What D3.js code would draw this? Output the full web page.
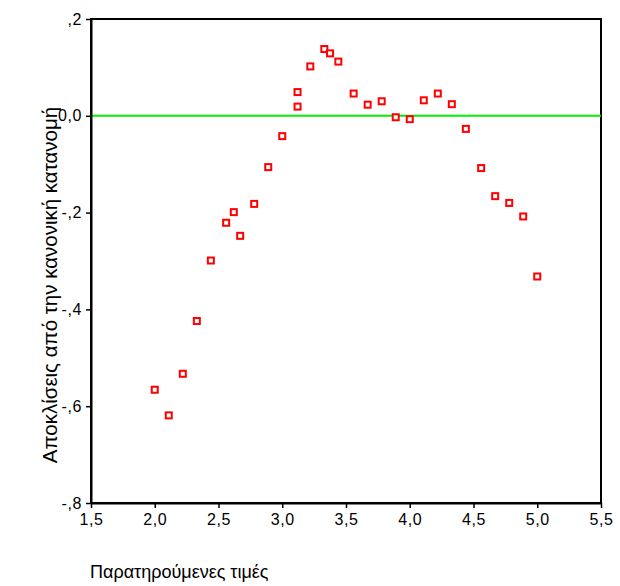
<!DOCTYPE html>
<html>
<head>
<meta charset="utf-8">
<script src="https://cdn.jsdelivr.net/npm/d3@7"></script>
<style>
  body { margin: 0; background: #fff; }
  text { font-family: "Liberation Sans", Arial, sans-serif; fill: #000; }
</style>
</head>
<body>
<div id="chart"></div>
<script>
// Data
var observed = [2.0, 2.11, 2.22, 2.33, 2.44, 2.56, 2.62, 2.67, 2.78, 2.89,
                3.0, 3.12, 3.12, 3.22, 3.33, 3.375, 3.44, 3.56, 3.67, 3.78,
                3.89, 4.0, 4.11, 4.22, 4.33, 4.44, 4.56, 4.67, 4.78, 4.89, 5.0];
var deviation = [-0.566, -0.619, -0.533, -0.424, -0.299, -0.221, -0.199, -0.248, -0.182, -0.106,
                 -0.042, 0.049, 0.019, 0.102, 0.138, 0.129, 0.112, 0.046, 0.023, 0.030,
                 -0.003, -0.007, 0.032, 0.046, 0.024, -0.027, -0.108, -0.166, -0.180, -0.208, -0.332];
var xTicks = [1.5, 2.0, 2.5, 3.0, 3.5, 4.0, 4.5, 5.0, 5.5];
var xTickLabels = ["1,5", "2,0", "2,5", "3,0", "3,5", "4,0", "4,5", "5,0", "5,5"];
var yTicks = [0.2, 0.0, -0.2, -0.4, -0.6, -0.8];
var yTickLabels = [",2", "0,0", "-,2", "-,4", "-,6", "-,8"];

var margin = { top: 19, right: 19, bottom: 83, left: 91 },
    width = 620 - margin.left - margin.right,
    height = 586 - margin.top - margin.bottom;

var x = d3.scaleLinear().domain([1.5, 5.5]).range([0, width]);
var y = d3.scaleLinear().domain([-0.8, 0.2]).range([height, 0]);

var svg = d3.select("#chart").append("svg")
    .attr("width", 620)
    .attr("height", 586);

var g = svg.append("g")
    .attr("transform", "translate(" + margin.left + "," + margin.top + ")");

// frame (top + right)
g.append("rect")
    .attr("x", 0).attr("y", 0)
    .attr("width", width).attr("height", height)
    .attr("fill", "none")
    .attr("stroke", "#000")
    .attr("stroke-width", 2);

// reference line at 0
g.append("line")
    .attr("x1", 0).attr("x2", width)
    .attr("y1", y(0)).attr("y2", y(0))
    .attr("stroke", "#00f000")
    .attr("stroke-width", 2);

// X axis
var xAxis = g.append("g")
    .attr("transform", "translate(0," + height + ")")
    .call(d3.axisBottom(x)
        .tickValues(xTicks)
        .tickSize(5)
        .tickSizeOuter(0)
        .tickFormat(function (d, i) { return xTickLabels[i]; }));
xAxis.select(".domain").attr("stroke-width", 2);
xAxis.selectAll(".tick line").attr("stroke-width", 1.5);
xAxis.selectAll(".tick text")
    .attr("dy", "0.9em")
    .style("font-size", "16px")
    .style("letter-spacing", "0.6px")
    .style("font-family", "Liberation Sans, Arial, sans-serif");

// Y axis
var yAxis = g.append("g")
    .call(d3.axisLeft(y)
        .tickValues(yTicks)
        .tickSize(5)
        .tickSizeOuter(0)
        .tickFormat(function (d, i) { return yTickLabels[i]; }));
yAxis.select(".domain").attr("stroke-width", 2);
yAxis.selectAll(".tick line").attr("stroke-width", 1.5);
yAxis.selectAll(".tick text")
    .attr("x", -9)
    .style("font-size", "16px")
    .style("letter-spacing", "0.6px")
    .style("font-family", "Liberation Sans, Arial, sans-serif");

// points
g.selectAll("rect.pt")
    .data(observed)
    .enter()
    .append("rect")
    .attr("class", "pt")
    .attr("x", function (d) { return x(d) - 3; })
    .attr("y", function (d, i) { return y(deviation[i]) - 3; })
    .attr("width", 6)
    .attr("height", 6)
    .attr("fill", "#fff")
    .attr("stroke", "#ff0000")
    .attr("stroke-width", 2);

// axis titles
svg.append("text")
    .attr("transform", "translate(57,285) rotate(-90)")
    .style("text-anchor", "middle")
    .style("font-size", "20.5px")
    .text("Αποκλίσεις από την κανονική κατανομή");

svg.append("text")
    .attr("x", 90)
    .attr("y", 578)
    .style("font-size", "18px")
    .text("Παρατηρούμενες τιμές");
</script>
</body>
</html>
